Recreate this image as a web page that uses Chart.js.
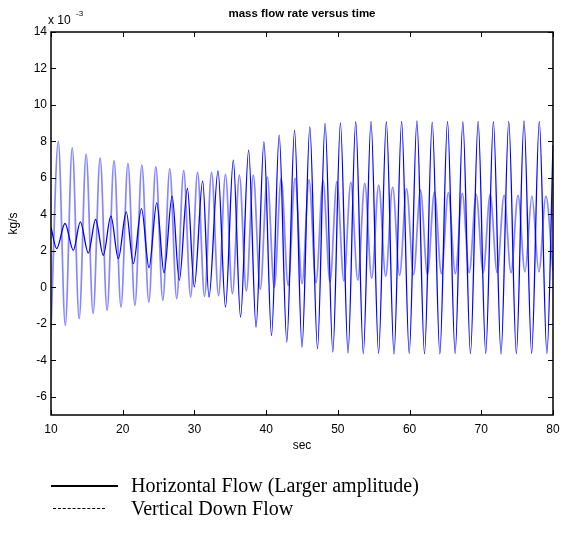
<!DOCTYPE html>
<html lang="en">
<head>
<meta charset="UTF-8">
<title>mass flow rate versus time</title>
<script src="https://cdn.jsdelivr.net/npm/chart.js@4.4.1/dist/chart.umd.min.js"></script>
<style>
	html, body { margin: 0; padding: 0; background: #fff; }
	#wrap { position: relative; width: 561px; height: 548px; }
	.legend-row { position: absolute; left: 0; font-family: "Liberation Serif", "Times New Roman", serif; font-size: 20px; color: #000; white-space: nowrap; }
	.legend-row .sample { position: absolute; top: 50%; }
	.legend-row .label { position: absolute; left: 131px; top: 0; line-height: 24px; }
</style>
</head>
<body>
<div id="wrap">
	<canvas id="flowChart" width="561" height="548"></canvas>
	<div class="legend-row" style="top:473px;height:24px;width:561px">
		<div class="sample" style="left:51px;width:67px;border-top:2px solid #000"></div>
		<div class="label">Horizontal Flow (Larger amplitude)</div>
	</div>
	<div class="legend-row" style="top:496px;height:24px;width:561px">
		<div class="sample" style="left:53px;width:52px;border-top:1px dashed #000"></div>
		<div class="label">Vertical Down Flow</div>
	</div>
</div>

<script>
// turning points (sec, x 10^-3 kg/s)
var horizTime = [10.00, 10.79, 11.95, 13.11, 14.09, 15.20, 16.22, 17.29, 18.35, 19.39, 20.49, 21.48, 22.62, 23.67, 24.75, 25.76, 26.89, 27.89, 29.02, 29.98, 31.15, 32.03, 33.29, 34.33, 35.42, 36.43, 37.56, 38.59, 39.69, 40.75, 41.82, 42.88, 43.96, 45.00, 46.09, 47.16, 48.22, 49.30, 50.36, 51.42, 52.49, 53.55, 54.62, 55.68, 56.76, 57.83, 58.89, 59.95, 61.02, 62.08, 63.16, 64.22, 65.29, 66.35, 67.43, 68.49, 69.56, 70.62, 71.69, 72.75, 73.83, 74.89, 75.96, 77.02, 78.09, 79.15, 80.00];
var horizFlow = [3.3, 2.12, 3.5, 2.03, 3.59, 1.88, 3.72, 1.76, 3.9, 1.57, 4.14, 1.3, 4.32, 1.08, 4.63, 0.79, 5.0, 0.38, 5.42, 0.02, 5.84, -0.53, 6.39, -1.08, 6.97, -1.63, 7.52, -2.18, 7.98, -2.64, 8.35, -3.0, 8.62, -3.28, 8.8, -3.37, 8.99, -3.55, 9.02, -3.6, 9.08, -3.64, 9.1, -3.62, 9.08, -3.66, 9.1, -3.62, 9.12, -3.64, 9.06, -3.65, 9.1, -3.63, 9.08, -3.64, 9.1, -3.62, 9.08, -3.66, 9.1, -3.64, 9.12, -3.62, 9.1, -3.64, 7.8];

var vertTime = [10.00, 11.02, 11.99, 12.96, 13.93, 14.90, 15.87, 16.85, 17.82, 18.79, 19.76, 20.73, 21.70, 22.67, 23.64, 24.62, 25.59, 26.56, 27.53, 28.50, 29.47, 30.44, 31.41, 32.39, 33.36, 34.33, 35.30, 36.27, 37.24, 38.21, 39.18, 40.16, 41.13, 42.10, 43.07, 44.04, 45.01, 45.98, 46.95, 47.93, 48.90, 49.87, 50.84, 51.81, 52.78, 53.75, 54.72, 55.70, 56.67, 57.64, 58.61, 59.58, 60.55, 61.52, 62.49, 63.47, 64.44, 65.41, 66.38, 67.35, 68.32, 69.29, 70.26, 71.24, 72.21, 73.18, 74.15, 75.12, 76.09, 77.06, 78.03, 79.01, 80.00];
var vertFlow = [-2.3, 8.0, -2.09, 7.65, -1.71, 7.3, -1.43, 7.1, -1.26, 6.95, -1.08, 6.8, -0.99, 6.7, -0.81, 6.6, -0.71, 6.5, -0.62, 6.4, -0.53, 6.3, -0.5, 6.3, -0.45, 6.2, -0.35, 6.15, -0.2, 6.15, -0.1, 6.05, 0.0, 5.97, 0.1, 5.97, 0.2, 5.9, 0.25, 5.85, 0.3, 5.8, 0.35, 5.75, 0.4, 5.7, 0.5, 5.6, 0.6, 5.5, 0.65, 5.42, 0.7, 5.33, 0.7, 5.24, 0.75, 5.2, 0.75, 5.15, 0.8, 5.1, 0.8, 5.1, 0.8, 5.05, 0.8, 5.05, 0.85, 5.0, 0.85, 5.0, 0.9];

var xTicks = [10, 20, 30, 40, 50, 60, 70, 80];
var yTicks = [-6, -4, -2, 0, 2, 4, 6, 8, 10, 12, 14];

function toPoints(t, v) {
	return t.map(function (x, i) { return { x: x, y: v[i] }; });
}

// matlab style box, inward ticks, title and exponent
var matlabFrame = {
	id: 'matlabFrame',
	afterDatasetsDraw: function (chart) {
		var ctx = chart.ctx, a = chart.chartArea, x = chart.scales.x, y = chart.scales.y;
		ctx.save();
		ctx.strokeStyle = '#000';
		ctx.lineWidth = 1;
		ctx.beginPath();
		x.ticks.forEach(function (t) {
			var px = Math.round(x.getPixelForValue(t.value)) + 0.5;
			ctx.moveTo(px, a.bottom); ctx.lineTo(px, a.bottom - 5);
			ctx.moveTo(px, a.top); ctx.lineTo(px, a.top + 5);
		});
		y.ticks.forEach(function (t) {
			var py = Math.round(y.getPixelForValue(t.value)) + 0.5;
			ctx.moveTo(a.left, py); ctx.lineTo(a.left + 5, py);
			ctx.moveTo(a.right, py); ctx.lineTo(a.right - 5, py);
		});
		ctx.stroke();
		ctx.lineWidth = 1.5;
		ctx.strokeRect(a.left, a.top, a.right - a.left, a.bottom - a.top);

		ctx.fillStyle = '#000';
		ctx.textBaseline = 'alphabetic';
		ctx.font = 'bold 11.5px "Liberation Sans", Arial, sans-serif';
		ctx.textAlign = 'center';
		ctx.fillText('mass flow rate versus time', (a.left + a.right) / 2, 17);
		ctx.textAlign = 'left';
		ctx.font = '12px "Liberation Sans", Arial, sans-serif';
		ctx.fillText('x 10', 48, 24);
		ctx.font = '8px "Liberation Sans", Arial, sans-serif';
		ctx.fillText('-3', 76, 16);
		ctx.restore();
	}
};

var tickFont = { family: '"Liberation Sans", Arial, sans-serif', size: 12 };

new Chart(document.getElementById('flowChart').getContext('2d'), {
	type: 'line',
	data: {
		datasets: [{
			label: 'Horizontal Flow (Larger amplitude)',
			data: toPoints(horizTime, horizFlow),
			borderColor: '#0000ff',
			borderWidth: 1.3,
			pointRadius: 0,
			cubicInterpolationMode: 'monotone',
			fill: false
		}, {
			label: 'Vertical Down Flow',
			data: toPoints(vertTime, vertFlow),
			borderColor: 'rgba(60, 60, 255, 0.62)',
			borderWidth: 1.7,
			pointRadius: 0,
			cubicInterpolationMode: 'monotone',
			fill: false
		}]
	},
	options: {
		responsive: false,
		animation: false,
		events: [],
		layout: { padding: { left: 0, right: 8, top: 32, bottom: 92 } },
		plugins: {
			legend: { display: false },
			title: { display: false },
			tooltip: { enabled: false }
		},
		scales: {
			x: {
				type: 'linear',
				min: 10,
				max: 80,
				afterBuildTicks: function (s) { s.ticks = xTicks.map(function (v) { return { value: v }; }); },
				afterFit: function (s) { s.height = 41; s.paddingLeft = 0; s.paddingRight = 0; },
				grid: { display: false, drawTicks: false },
				border: { display: false },
				ticks: { color: '#000', font: tickFont, padding: 7, maxRotation: 0 },
				title: { display: true, text: 'sec', color: '#000', font: tickFont, padding: { top: 4, bottom: 3 } }
			},
			y: {
				type: 'linear',
				min: -7,
				max: 14,
				afterBuildTicks: function (s) { s.ticks = yTicks.map(function (v) { return { value: v }; }); },
				afterFit: function (s) { s.width = 51; s.paddingTop = 0; s.paddingBottom = 0; },
				grid: { display: false, drawTicks: false },
				border: { display: false },
				ticks: { color: '#000', font: tickFont, padding: 4 },
				title: { display: true, text: 'kg/s', color: '#000', font: tickFont, padding: { top: 6, bottom: 4 } }
			}
		}
	},
	plugins: [matlabFrame]
});
</script>
</body>
</html>
